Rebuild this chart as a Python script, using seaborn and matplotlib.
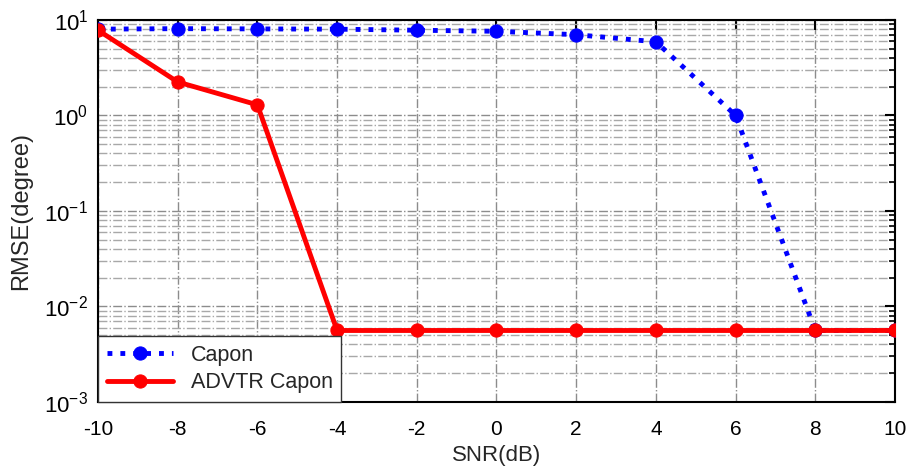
import numpy as np
import pandas as pd
import seaborn as sns
import matplotlib.pyplot as plt
from matplotlib.ticker import LogLocator, NullFormatter

snr = [-10, -8, -6, -4, -2, 0, 2, 4, 6, 8, 10]
capon = [8.0, 8.1, 8.05, 8.0, 7.8, 7.6, 7.0, 5.9, 1.0, 0.0056, 0.0056]
advtr = [7.8, 2.24, 1.29, 0.0056, 0.0056, 0.0056, 0.0056, 0.0056, 0.0056, 0.0056, 0.0056]

sns.set_style("white")
plt.rcParams['font.family'] = ['Liberation Sans', 'DejaVu Sans']
plt.rcParams['mathtext.fontset'] = 'custom'
plt.rcParams['mathtext.rm'] = 'Liberation Sans'

fig = plt.figure(figsize=(9.09, 4.74), dpi=100)
ax = fig.add_axes([0.1078, 0.152, 0.8768, 0.806])

sns.lineplot(x=snr, y=capon, ax=ax, color='blue', linestyle=':', linewidth=3.5,
             marker='o', markersize=9.5, markeredgecolor='blue', label='Capon', zorder=3)
sns.lineplot(x=snr, y=advtr, ax=ax, color='red', linestyle='-', linewidth=3.5,
             marker='o', markersize=9.5, markeredgecolor='red', label='ADVTR Capon', zorder=3)

ax.set_yscale('log')
ax.set_xlim(-10, 10)
ax.set_ylim(1e-3, 1e1)
ax.set_xticks(snr)
ax.set_xticklabels([str(v) for v in snr])
ax.yaxis.set_major_locator(LogLocator(base=10, numticks=10))
ax.yaxis.set_minor_locator(LogLocator(base=10, subs=np.arange(2, 10), numticks=50))
ax.yaxis.set_minor_formatter(NullFormatter())

ax.grid(True, which='major', axis='both', color='#8c8c8c', linestyle='-.', linewidth=1)
ax.grid(True, which='minor', axis='y', color='#a8a8a8', linestyle='-.', linewidth=1)
ax.set_axisbelow(True)

ax.tick_params(axis='both', which='both', direction='in', top=True, right=True,
               labelsize=15, colors='black')
ax.tick_params(axis='y', labelsize=16)
ax.tick_params(which='major', length=7, width=1.5)
ax.tick_params(which='minor', length=4, width=1.2)
ax.tick_params(axis='x', pad=13)
ax.tick_params(axis='y', pad=7)
for s in ax.spines.values():
    s.set_color('black')
    s.set_linewidth(1.5)

ax.set_xlabel('SNR(dB)', fontsize=16, labelpad=4)
ax.set_ylabel('RMSE(degree)', fontsize=17, labelpad=9)

leg = ax.legend(loc='lower left', fontsize=15.5, frameon=True, fancybox=False,
                edgecolor='#333333', framealpha=1, borderaxespad=0,
                handlelength=3.1, borderpad=0.4, labelspacing=0.3,
                handletextpad=0.8)
leg.get_frame().set_linewidth(1)

fig.savefig('out.png', dpi=100)
